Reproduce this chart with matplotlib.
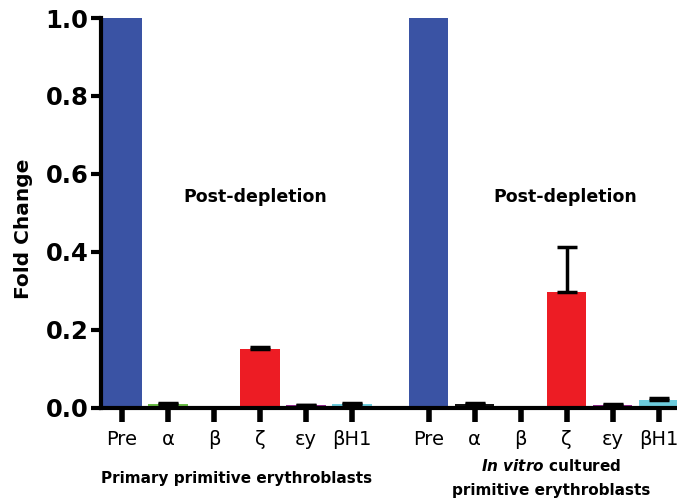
import matplotlib
matplotlib.use('Agg')
import matplotlib.pyplot as plt
import numpy as np

genes = ['Pre', 'α', 'β', 'ζ', 'εy', 'βH1']

# primary primitive erythroblasts
primary_vals = [1.0, 0.011, 0.0, 0.152, 0.007, 0.011]
primary_err = [0.0, 0.002, 0.0, 0.003, 0.001, 0.002]
# in vitro cultured primitive erythroblasts
cultured_vals = [1.0, 0.011, 0.0, 0.297, 0.008, 0.020]
cultured_err = [0.0, 0.002, 0.0, 0.115, 0.001, 0.006]

primary_colors = ['#3A53A4', '#6ABD45', '#000000', '#ED1C24', '#92278F', '#6DCCDD']
cultured_colors = ['#3A53A4', '#111111', '#000000', '#ED1C24', '#92278F', '#6DCCDD']

plt.rcParams['font.family'] = ['DejaVu Sans']
plt.rcParams['mathtext.fontset'] = 'custom'
plt.rcParams['mathtext.it'] = 'DejaVu Sans:bold:italic'

fig = plt.figure(figsize=(6.77, 5.01), dpi=100)
ax = fig.add_axes([0.149, 0.186, 0.851, 0.778])

x1 = np.arange(len(genes))
x2 = x1 + 6.67
width = 0.86

for xs, vals, errs, cols in [(x1, primary_vals, primary_err, primary_colors),
                             (x2, cultured_vals, cultured_err, cultured_colors)]:
    ax.bar(xs, vals, width=width, color=cols, zorder=2)
    errs = np.array(errs)
    has_err = errs > 0
    ax.errorbar(xs[has_err], np.array(vals)[has_err],
                yerr=[np.zeros(has_err.sum()), errs[has_err]], fmt='none',
                ecolor='black', elinewidth=2.5, capsize=7, capthick=2.5, zorder=3)

ax.set_xlim(-0.46, 12.07)
ax.set_ylim(0, 1.0)
ax.set_yticks([0.0, 0.2, 0.4, 0.6, 0.8, 1.0])
ax.set_yticklabels(['0.0', '0.2', '0.4', '0.6', '0.8', '1.0'],
                   fontsize=17.5, fontweight='bold')
ax.set_xticks(np.concatenate([x1, x2]))
ax.set_xticklabels(genes + genes, fontsize=14)

for s in ['top', 'right']:
    ax.spines[s].set_visible(False)
for s in ['left', 'bottom']:
    ax.spines[s].set_linewidth(3)
ax.spines['bottom'].set_zorder(4)
ax.tick_params(axis='y', length=7, width=3, pad=2)
ax.tick_params(axis='x', length=10, width=4, pad=6)

ax.set_ylabel('Fold Change', fontsize=14.5, fontweight='bold')
ax.yaxis.set_label_coords(-0.118, 0.46)

ax.text(2.9, 0.54, 'Post-depletion', ha='center', va='center',
        fontsize=12.5, fontweight='bold')
ax.text(9.63, 0.54, 'Post-depletion', ha='center', va='center',
        fontsize=12.5, fontweight='bold')

fig.text(237 / 677, 1 - 478 / 501, 'Primary primitive erythroblasts',
         ha='center', va='center', fontsize=11, fontweight='bold')
fig.text(551 / 677, 1 - 466 / 501, r'$\mathit{In\ vitro}$ cultured',
         ha='center', va='center', fontsize=11, fontweight='bold')
fig.text(551 / 677, 1 - 490 / 501, 'primitive erythroblasts',
         ha='center', va='center', fontsize=11, fontweight='bold')

fig.savefig('out.png', dpi=100)
